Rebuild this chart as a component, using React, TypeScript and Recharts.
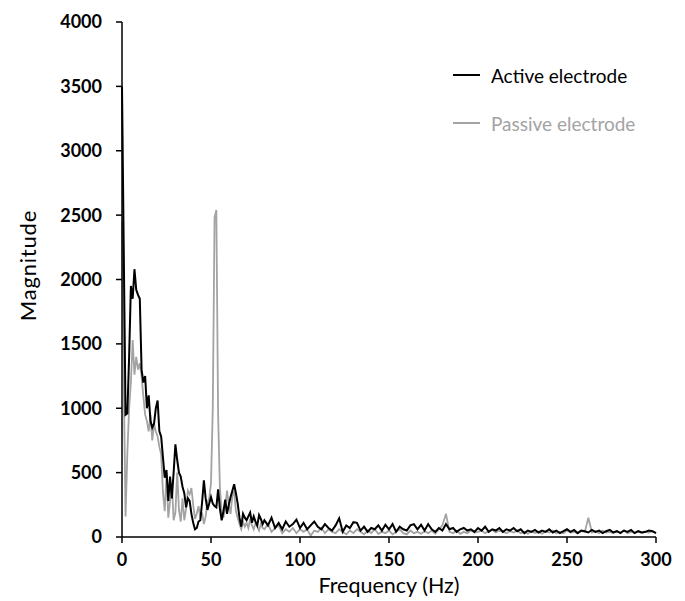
import { LineChart, Line, XAxis, YAxis, Legend } from "recharts";

// frequency grid: 1 Hz up to 79 Hz, then 2 Hz steps to 300 Hz
const lowFreq = [
  0, 1, 2, 3, 4, 5, 6, 7, 8, 9,
  10, 11, 12, 13, 14, 15, 16, 17, 18, 19,
  20, 21, 22, 23, 24, 25, 26, 27, 28, 29,
  30, 31, 32, 33, 34, 35, 36, 37, 38, 39,
  40, 41, 42, 43, 44, 45, 46, 47, 48, 49,
  50, 51, 52, 53, 54, 55, 56, 57, 58, 59,
  60, 61, 62, 63, 64, 65, 66, 67, 68, 69,
  70, 71, 72, 73, 74, 75, 76, 77, 78, 79,
];
const highFreq = [
  80, 82, 84, 86, 88, 90, 92, 94, 96, 98,
  100, 102, 104, 106, 108, 110, 112, 114, 116, 118,
  120, 122, 124, 126, 128, 130, 132, 134, 136, 138,
  140, 142, 144, 146, 148, 150, 152, 154, 156, 158,
  160, 162, 164, 166, 168, 170, 172, 174, 176, 178,
  180, 182, 184, 186, 188, 190, 192, 194, 196, 198,
  200, 202, 204, 206, 208, 210, 212, 214, 216, 218,
  220, 222, 224, 226, 228, 230, 232, 234, 236, 238,
  240, 242, 244, 246, 248, 250, 252, 254, 256, 258,
  260, 262, 264, 266, 268, 270, 272, 274, 276, 278,
  280, 282, 284, 286, 288, 290, 292, 294, 296, 298,
  300,
];

const activeLow = [
  3500, 2200, 950, 960, 1400, 1950, 1850, 2080, 1920, 1880,
  1850, 1300, 1200, 1250, 1000, 1100, 900, 850, 880, 1000,
  1060, 820, 780, 620, 460, 520, 280, 470, 300, 500,
  720, 600, 500, 470, 390, 340, 230, 300, 280, 180,
  110, 60, 70, 120, 130, 270, 440, 300, 210, 260,
  310, 260, 240, 230, 370, 220, 130, 200, 290, 180,
  250, 310, 360, 410, 340, 260, 150, 80, 180, 150,
  130, 160, 190, 110, 160, 120, 90, 170, 140, 100,
];
const activeHigh = [
  130, 90, 150, 70, 110, 60, 120, 80, 100, 135,
  70, 110, 60, 90, 120, 80, 60, 100, 70, 50,
  90, 145, 40, 90, 70, 115, 110, 50, 80, 40,
  70, 60, 90, 50, 95, 60, 100, 40, 80, 60,
  50, 90, 100, 60, 95, 50, 100, 60, 40, 70,
  50, 100, 60, 70, 40, 60, 70, 50, 60, 40,
  70, 50, 80, 40, 60, 50, 70, 40, 60, 50,
  70, 45, 60, 30, 50, 40, 55, 35, 50, 40,
  60, 35, 50, 30, 45, 60, 40, 55, 30, 50,
  45, 35, 55, 40, 50, 30, 45, 55, 35, 45,
  30, 50, 40, 55, 30, 45, 35, 40, 50, 45,
  30,
];

const passiveLow = [
  2450, 1200, 160, 650, 1000, 1200, 1530, 1260, 1400, 1300,
  1350, 1250, 1090, 950, 900, 820, 950, 750, 880, 820,
  780, 700, 640, 350, 200, 480, 150, 280, 420, 130,
  190, 500, 210, 120, 300, 130, 220, 360, 330, 380,
  250, 140, 180, 240, 150, 190, 100, 160, 270, 300,
  420, 1000, 2480, 2540, 950, 380, 200, 150, 230, 360,
  250, 180, 320, 350, 200, 150, 100, 60, 120, 80,
  110, 70, 140, 90, 60, 110, 80, 50, 100, 70,
];
const passiveHigh = [
  60, 100, 40, 70, 90, 30, 60, 40, 70, 30,
  60, 40, 60, 10, 50, 40, 70, 30, 60, 40,
  30, 60, 40, 20, 50, 30, 60, 40, 20, 50,
  30, 60, 25, 40, 30, 50, 20, 40, 60, 30,
  20, 50, 30, 40, 25, 45, 30, 50, 25, 60,
  90, 180, 40, 30, 50, 25, 40, 30, 50, 35,
  40, 50, 30, 45, 55, 35, 50, 40, 30, 45,
  35, 50, 30, 40, 25, 45, 30, 40, 25, 45,
  35, 50, 30, 40, 30, 50, 35, 40, 30, 45,
  40, 150, 35, 45, 30, 50, 35, 40, 30, 45,
  35, 50, 30, 40, 35, 45, 30, 40, 35, 45,
  30,
];

const xTicks = [0, 50, 100, 150, 200, 250, 300];
const yTicks = [0, 500, 1000, 1500, 2000, 2500, 3000, 3500, 4000];

const freq = [...lowFreq, ...highFreq];
const active = [...activeLow, ...activeHigh];
const passive = [...passiveLow, ...passiveHigh];
const data = freq.map((f, i) => ({ freq: f, active: active[i], passive: passive[i] }));

const FONT = "Lato, 'Open Sans', sans-serif";
const ACTIVE_COLOR = "#000000";
const PASSIVE_COLOR = "#a3a3a3";

const tickStyle = { fontSize: 18, fontWeight: 700, fill: "#000", fontFamily: FONT };

function YTitle(props: any) {
  const vb = props.viewBox;
  const cy = vb.y + vb.height / 2 - 14;
  return (
    <text
      x={19}
      y={cy}
      transform={`rotate(-90 19 ${cy})`}
      textAnchor="middle"
      dominantBaseline="central"
      style={{ fontSize: 22, letterSpacing: 0.8, fontFamily: FONT, fill: "#000" }}
    >
      Magnitude
    </text>
  );
}

function XTitle(props: any) {
  const vb = props.viewBox;
  const cx = vb.x + vb.width / 2;
  return (
    <text
      x={cx}
      y={577}
      textAnchor="middle"
      dominantBaseline="central"
      style={{ fontSize: 21.5, fontFamily: FONT, fill: "#000" }}
    >
      Frequency (Hz)
    </text>
  );
}

function LegendBox() {
  const items = [
    { label: "Active electrode", color: ACTIVE_COLOR },
    { label: "Passive electrode", color: PASSIVE_COLOR },
  ];
  return (
    <div style={{ fontFamily: FONT, fontSize: 19 }}>
      {items.map((it) => (
        <div key={it.label} style={{ display: "flex", alignItems: "center", height: 48 }}>
          <div style={{ width: 27, height: 2, background: it.color, marginRight: 11 }} />
          <span style={{ color: it.color }}>{it.label}</span>
        </div>
      ))}
    </div>
  );
}

export default function App() {
  return (
    <div style={{ width: 670, height: 590, background: "#fff" }}>
      <LineChart
        width={670}
        height={590}
        data={data}
        margin={{ top: 14, right: 22, bottom: 0, left: 0 }}
      >
        <XAxis
          dataKey="freq"
          type="number"
          domain={[0, 300]}
          ticks={xTicks}
          interval={0}
          height={61}
          tickSize={6}
          tickMargin={10}
          axisLine={{ stroke: "#000", strokeWidth: 1.5 }}
          tickLine={{ stroke: "#000", strokeWidth: 1.5 }}
          tick={tickStyle}
          label={<XTitle />}
        />
        <YAxis
          type="number"
          domain={[0, 4000]}
          ticks={yTicks}
          interval={0}
          width={114}
          tickSize={6}
          tickMargin={14}
          axisLine={{ stroke: "#000", strokeWidth: 1.5 }}
          tickLine={{ stroke: "#000", strokeWidth: 1.5 }}
          tick={tickStyle}
          label={<YTitle />}
        />
        <Legend
          layout="horizontal"
          verticalAlign="middle"
          align="center"
          content={<LegendBox />}
          wrapperStyle={{ position: "absolute", top: 43, left: 445, width: 230 }}
        />
        <Line
          dataKey="passive"
          type="linear"
          stroke={PASSIVE_COLOR}
          strokeWidth={1.8}
          dot={false}
          isAnimationActive={false}
        />
        <Line
          dataKey="active"
          type="linear"
          stroke={ACTIVE_COLOR}
          strokeWidth={2}
          dot={false}
          isAnimationActive={false}
        />
      </LineChart>
    </div>
  );
}
